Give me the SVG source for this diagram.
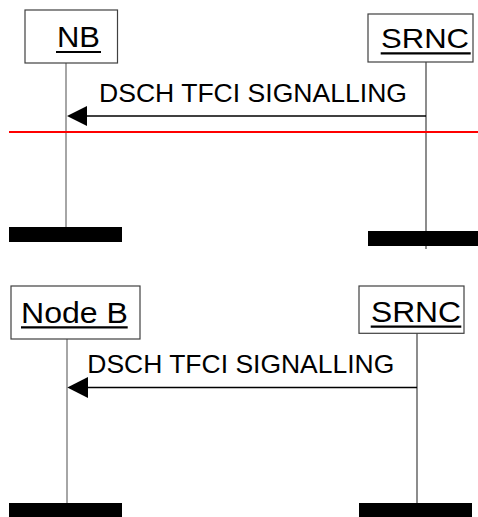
<svg xmlns="http://www.w3.org/2000/svg" width="478" height="517" viewBox="0 0 478 517">
<style>
.box{fill:#fff;stroke:#404040;stroke-width:1.2}
.lbl{font-family:"Liberation Sans",Arial,sans-serif;fill:#000}
.ul{stroke:#000;stroke-width:2.2}
.lifeL{stroke:#808080;stroke-width:1.4}
.lifeR{stroke:#404040;stroke-width:1.2}
.bar{fill:#000}
.msg{stroke:#000;stroke-width:1.6;fill:none}
.head{fill:#000}
</style>
<rect width="478" height="517" fill="#fff"/>
<g id="lifelines">
<line class="lifeL" x1="66" y1="63" x2="66" y2="228"/>
<line class="lifeR" x1="426" y1="62" x2="426" y2="249"/>
<line class="lifeL" x1="67" y1="339" x2="67" y2="503"/>
<line class="lifeR" x1="417" y1="333" x2="417" y2="503"/>
</g>
<g id="top-NB">
<rect class="box" x="25" y="10" width="92.5" height="53"/>
<text class="lbl" x="57" y="47" font-size="30" textLength="43" lengthAdjust="spacingAndGlyphs">NB</text>
<line class="ul" x1="56" y1="52" x2="101" y2="52"/>
<rect class="bar" x="9" y="227" width="113" height="15"/>
</g>
<g id="top-SRNC">
<rect class="box" x="368" y="14" width="105" height="48"/>
<text class="lbl" x="381" y="48.3" font-size="28" textLength="88" lengthAdjust="spacingAndGlyphs">SRNC</text>
<line class="ul" x1="380.7" y1="53.3" x2="470.7" y2="53.3"/>
<rect class="bar" x="368" y="231" width="110" height="15"/>
</g>
<g id="bottom-NodeB">
<rect class="box" x="11" y="286" width="129" height="53"/>
<text class="lbl" x="21" y="323.3" font-size="30" textLength="107" lengthAdjust="spacingAndGlyphs">Node B</text>
<line class="ul" x1="21" y1="327.3" x2="127.7" y2="327.3"/>
<rect class="bar" x="9" y="503" width="113" height="14"/>
</g>
<g id="bottom-SRNC">
<rect class="box" x="359" y="286" width="105" height="47.3"/>
<text class="lbl" x="371" y="321.7" font-size="30" textLength="90" lengthAdjust="spacingAndGlyphs">SRNC</text>
<line class="ul" x1="370.7" y1="326.7" x2="461.3" y2="326.7"/>
<rect class="bar" x="359" y="503" width="113" height="14"/>
</g>
<g id="connectors">
<line class="msg" x1="426" y1="116" x2="86" y2="116"/>
<polygon class="head" points="67,116 87,106 87,126"/>
<text class="lbl" x="99" y="101.7" font-size="26" textLength="308" lengthAdjust="spacingAndGlyphs">DSCH TFCI SIGNALLING</text>
<line class="msg" x1="417" y1="387.5" x2="87" y2="387.5"/>
<polygon class="head" points="67.3,387.5 88,377 88,398"/>
<text class="lbl" x="87.3" y="372.7" font-size="26" textLength="307" lengthAdjust="spacingAndGlyphs">DSCH TFCI SIGNALLING</text>
<line x1="9" y1="132" x2="478" y2="132" stroke="#ff0000" stroke-width="2"/>
</g>
</svg>
